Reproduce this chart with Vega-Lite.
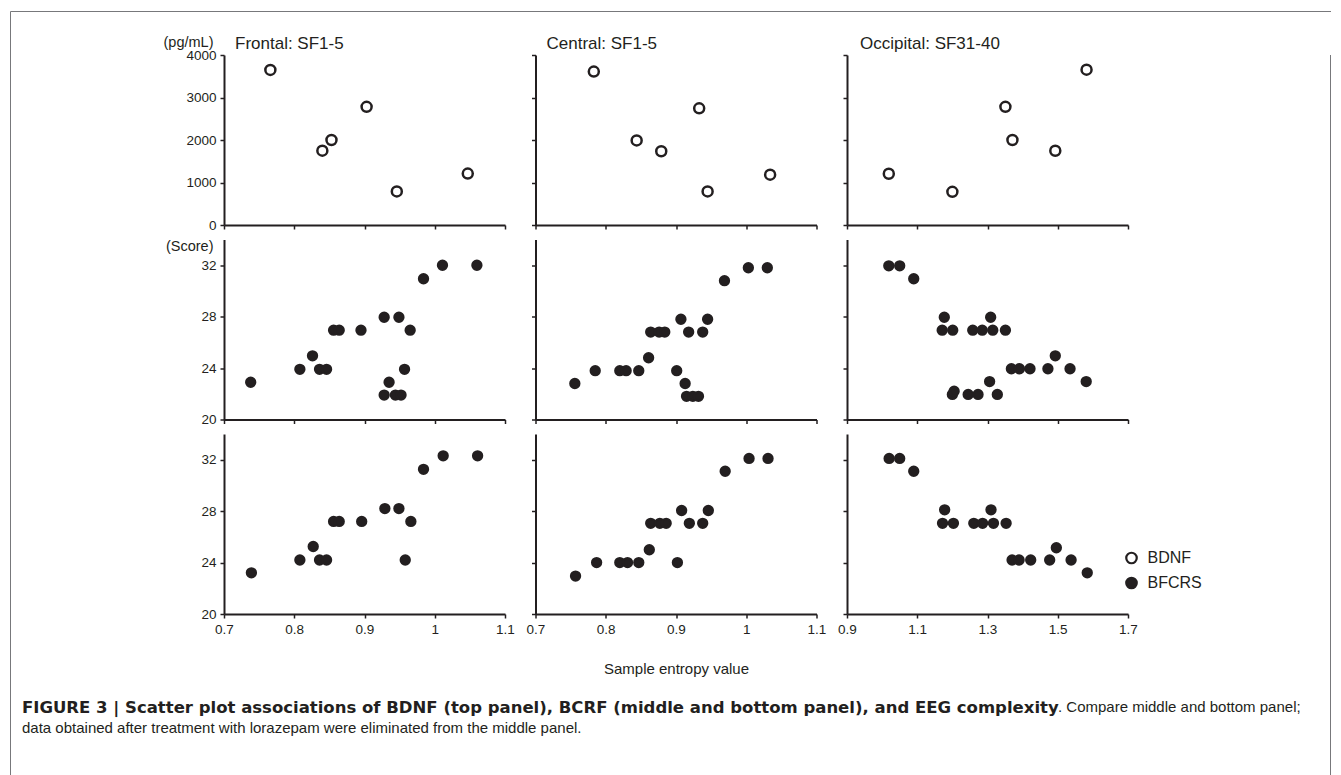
{
  "$schema": "https://vega.github.io/schema/vega-lite/v6.json",
  "background": "white",
  "padding": {"left": 10, "top": 11, "right": 0, "bottom": 0},
  "config": {
    "view": {"stroke": null},
    "font": "Liberation Sans",
    "axis": {
      "domainColor": "#231f20", "domainWidth": 2, "tickColor": "#231f20", "tickWidth": 1.5, "tickSize": 4,
      "labelColor": "#231f20", "labelFontSize": 13.5, "labelPadding": 4, "labelFlush": false, "grid": false,
      "titleColor": "#231f20", "titleFontWeight": "normal", "labelFont": "Liberation Sans", "titleFont": "Liberation Sans"
    },
    "legend": {
      "orient": "none", "legendX": 1113.5, "legendY": 539, "labelFontSize": 16, "labelColor": "#231f20",
      "labelFont": "Liberation Sans", "symbolStrokeColor": "#231f20", "symbolStrokeWidth": 2.2,
      "symbolSize": 110, "symbolType": "circle", "rowPadding": 5, "labelOffset": 8, "padding": 0
    },
    "title": {"color": "#231f20", "font": "Liberation Sans"}
  },
  "datasets": {
    "frame": [{"v": 0}],
    "frontal_bdnf": [
      {"entropy": 0.766, "value": 3650, "measure": "BDNF"}, {"entropy": 0.840, "value": 1750, "measure": "BDNF"},
      {"entropy": 0.853, "value": 2000, "measure": "BDNF"}, {"entropy": 0.903, "value": 2780, "measure": "BDNF"},
      {"entropy": 0.946, "value": 790, "measure": "BDNF"}, {"entropy": 1.047, "value": 1210, "measure": "BDNF"}
    ],
    "central_bdnf": [
      {"entropy": 0.783, "value": 3610, "measure": "BDNF"}, {"entropy": 0.844, "value": 1990, "measure": "BDNF"},
      {"entropy": 0.879, "value": 1735, "measure": "BDNF"}, {"entropy": 0.933, "value": 2745, "measure": "BDNF"},
      {"entropy": 0.945, "value": 790, "measure": "BDNF"}, {"entropy": 1.034, "value": 1185, "measure": "BDNF"}
    ],
    "occipital_bdnf": [
      {"entropy": 1.019, "value": 1205, "measure": "BDNF"}, {"entropy": 1.200, "value": 780, "measure": "BDNF"},
      {"entropy": 1.351, "value": 2780, "measure": "BDNF"}, {"entropy": 1.371, "value": 2000, "measure": "BDNF"},
      {"entropy": 1.493, "value": 1748, "measure": "BDNF"}, {"entropy": 1.582, "value": 3654, "measure": "BDNF"}
    ],
    "frontal_mid": [
      {"entropy": 0.738, "value": 22.9, "measure": "BFCRS"}, {"entropy": 0.808, "value": 23.9, "measure": "BFCRS"},
      {"entropy": 0.826, "value": 24.95, "measure": "BFCRS"}, {"entropy": 0.836, "value": 23.9, "measure": "BFCRS"},
      {"entropy": 0.846, "value": 23.9, "measure": "BFCRS"}, {"entropy": 0.856, "value": 26.95, "measure": "BFCRS"},
      {"entropy": 0.864, "value": 26.95, "measure": "BFCRS"}, {"entropy": 0.895, "value": 26.95, "measure": "BFCRS"},
      {"entropy": 0.928, "value": 27.95, "measure": "BFCRS"}, {"entropy": 0.949, "value": 27.95, "measure": "BFCRS"},
      {"entropy": 0.965, "value": 26.95, "measure": "BFCRS"}, {"entropy": 0.957, "value": 23.9, "measure": "BFCRS"},
      {"entropy": 0.935, "value": 22.9, "measure": "BFCRS"}, {"entropy": 0.928, "value": 21.9, "measure": "BFCRS"},
      {"entropy": 0.944, "value": 21.9, "measure": "BFCRS"}, {"entropy": 0.952, "value": 21.9, "measure": "BFCRS"},
      {"entropy": 0.984, "value": 30.95, "measure": "BFCRS"}, {"entropy": 1.011, "value": 32.0, "measure": "BFCRS"},
      {"entropy": 1.060, "value": 32.0, "measure": "BFCRS"}
    ],
    "central_mid": [
      {"entropy": 0.756, "value": 22.8, "measure": "BFCRS"}, {"entropy": 0.785, "value": 23.8, "measure": "BFCRS"},
      {"entropy": 0.820, "value": 23.8, "measure": "BFCRS"}, {"entropy": 0.829, "value": 23.8, "measure": "BFCRS"},
      {"entropy": 0.847, "value": 23.8, "measure": "BFCRS"}, {"entropy": 0.861, "value": 24.8, "measure": "BFCRS"},
      {"entropy": 0.864, "value": 26.8, "measure": "BFCRS"}, {"entropy": 0.876, "value": 26.8, "measure": "BFCRS"},
      {"entropy": 0.884, "value": 26.8, "measure": "BFCRS"}, {"entropy": 0.907, "value": 27.8, "measure": "BFCRS"},
      {"entropy": 0.918, "value": 26.8, "measure": "BFCRS"}, {"entropy": 0.938, "value": 26.8, "measure": "BFCRS"},
      {"entropy": 0.945, "value": 27.8, "measure": "BFCRS"}, {"entropy": 0.901, "value": 23.8, "measure": "BFCRS"},
      {"entropy": 0.913, "value": 22.8, "measure": "BFCRS"}, {"entropy": 0.915, "value": 21.8, "measure": "BFCRS"},
      {"entropy": 0.924, "value": 21.8, "measure": "BFCRS"}, {"entropy": 0.932, "value": 21.8, "measure": "BFCRS"},
      {"entropy": 0.969, "value": 30.8, "measure": "BFCRS"}, {"entropy": 1.003, "value": 31.8, "measure": "BFCRS"},
      {"entropy": 1.030, "value": 31.8, "measure": "BFCRS"}
    ],
    "occipital_mid": [
      {"entropy": 1.019, "value": 31.95, "measure": "BFCRS"}, {"entropy": 1.050, "value": 31.95, "measure": "BFCRS"},
      {"entropy": 1.090, "value": 30.95, "measure": "BFCRS"}, {"entropy": 1.177, "value": 27.95, "measure": "BFCRS"},
      {"entropy": 1.171, "value": 26.95, "measure": "BFCRS"}, {"entropy": 1.201, "value": 26.95, "measure": "BFCRS"},
      {"entropy": 1.258, "value": 26.95, "measure": "BFCRS"}, {"entropy": 1.285, "value": 26.95, "measure": "BFCRS"},
      {"entropy": 1.309, "value": 27.95, "measure": "BFCRS"}, {"entropy": 1.315, "value": 26.95, "measure": "BFCRS"},
      {"entropy": 1.351, "value": 26.95, "measure": "BFCRS"}, {"entropy": 1.368, "value": 23.95, "measure": "BFCRS"},
      {"entropy": 1.391, "value": 23.95, "measure": "BFCRS"}, {"entropy": 1.421, "value": 23.95, "measure": "BFCRS"},
      {"entropy": 1.472, "value": 23.95, "measure": "BFCRS"}, {"entropy": 1.493, "value": 24.95, "measure": "BFCRS"},
      {"entropy": 1.535, "value": 23.95, "measure": "BFCRS"}, {"entropy": 1.581, "value": 22.95, "measure": "BFCRS"},
      {"entropy": 1.200, "value": 21.95, "measure": "BFCRS"}, {"entropy": 1.205, "value": 22.2, "measure": "BFCRS"},
      {"entropy": 1.245, "value": 21.95, "measure": "BFCRS"}, {"entropy": 1.273, "value": 21.95, "measure": "BFCRS"},
      {"entropy": 1.306, "value": 22.95, "measure": "BFCRS"}, {"entropy": 1.328, "value": 21.95, "measure": "BFCRS"}
    ],
    "frontal_bot": [
      {"entropy": 0.739, "value": 23.2, "measure": "BFCRS"}, {"entropy": 0.808, "value": 24.2, "measure": "BFCRS"},
      {"entropy": 0.827, "value": 25.25, "measure": "BFCRS"}, {"entropy": 0.836, "value": 24.2, "measure": "BFCRS"},
      {"entropy": 0.846, "value": 24.2, "measure": "BFCRS"}, {"entropy": 0.856, "value": 27.2, "measure": "BFCRS"},
      {"entropy": 0.864, "value": 27.2, "measure": "BFCRS"}, {"entropy": 0.896, "value": 27.2, "measure": "BFCRS"},
      {"entropy": 0.929, "value": 28.2, "measure": "BFCRS"}, {"entropy": 0.949, "value": 28.2, "measure": "BFCRS"},
      {"entropy": 0.966, "value": 27.2, "measure": "BFCRS"}, {"entropy": 0.958, "value": 24.2, "measure": "BFCRS"},
      {"entropy": 0.984, "value": 31.25, "measure": "BFCRS"}, {"entropy": 1.012, "value": 32.3, "measure": "BFCRS"},
      {"entropy": 1.061, "value": 32.3, "measure": "BFCRS"}
    ],
    "central_bot": [
      {"entropy": 0.757, "value": 22.95, "measure": "BFCRS"}, {"entropy": 0.787, "value": 24.0, "measure": "BFCRS"},
      {"entropy": 0.820, "value": 24.0, "measure": "BFCRS"}, {"entropy": 0.831, "value": 24.0, "measure": "BFCRS"},
      {"entropy": 0.847, "value": 24.0, "measure": "BFCRS"}, {"entropy": 0.862, "value": 25.0, "measure": "BFCRS"},
      {"entropy": 0.864, "value": 27.05, "measure": "BFCRS"}, {"entropy": 0.877, "value": 27.05, "measure": "BFCRS"},
      {"entropy": 0.886, "value": 27.05, "measure": "BFCRS"}, {"entropy": 0.908, "value": 28.05, "measure": "BFCRS"},
      {"entropy": 0.919, "value": 27.05, "measure": "BFCRS"}, {"entropy": 0.938, "value": 27.05, "measure": "BFCRS"},
      {"entropy": 0.946, "value": 28.05, "measure": "BFCRS"}, {"entropy": 0.902, "value": 24.0, "measure": "BFCRS"},
      {"entropy": 0.970, "value": 31.1, "measure": "BFCRS"}, {"entropy": 1.004, "value": 32.1, "measure": "BFCRS"},
      {"entropy": 1.031, "value": 32.1, "measure": "BFCRS"}
    ],
    "occipital_bot": [
      {"entropy": 1.020, "value": 32.1, "measure": "BFCRS"}, {"entropy": 1.050, "value": 32.1, "measure": "BFCRS"},
      {"entropy": 1.090, "value": 31.1, "measure": "BFCRS"}, {"entropy": 1.178, "value": 28.1, "measure": "BFCRS"},
      {"entropy": 1.172, "value": 27.05, "measure": "BFCRS"}, {"entropy": 1.203, "value": 27.05, "measure": "BFCRS"},
      {"entropy": 1.261, "value": 27.05, "measure": "BFCRS"}, {"entropy": 1.286, "value": 27.05, "measure": "BFCRS"},
      {"entropy": 1.310, "value": 28.1, "measure": "BFCRS"}, {"entropy": 1.317, "value": 27.05, "measure": "BFCRS"},
      {"entropy": 1.353, "value": 27.05, "measure": "BFCRS"}, {"entropy": 1.370, "value": 24.2, "measure": "BFCRS"},
      {"entropy": 1.390, "value": 24.2, "measure": "BFCRS"}, {"entropy": 1.423, "value": 24.2, "measure": "BFCRS"},
      {"entropy": 1.477, "value": 24.2, "measure": "BFCRS"}, {"entropy": 1.496, "value": 25.15, "measure": "BFCRS"},
      {"entropy": 1.538, "value": 24.2, "measure": "BFCRS"}, {"entropy": 1.584, "value": 23.2, "measure": "BFCRS"}
    ]
  },
  "bounds": "flush",
  "spacing": 0,
  "vconcat": [
    {
      "width": 1321, "height": 44,
      "data": {"name": "frame"},
      "layer": [
        {
          "mark": {"type": "point", "opacity": 0},
          "encoding": {
            "x": {"field": "v", "type": "quantitative", "axis": {"orient": "top", "domainColor": "#77787b", "domainWidth": 1, "ticks": false, "labels": false, "title": null}},
            "y": {"field": "v", "type": "quantitative", "axis": {"orient": "left", "domainColor": "#77787b", "domainWidth": 1, "ticks": false, "labels": false, "title": null}}
          }
        },
        {
          "mark": {"type": "point", "opacity": 0},
          "encoding": {
            "y": {"field": "v", "type": "quantitative", "axis": {"orient": "right", "domainColor": "#77787b", "domainWidth": 1, "ticks": false, "labels": false, "title": null}}
          }
        }
      ],
      "resolve": {"scale": {"y": "independent"}, "axis": {"y": "independent"}}
    },
    {
      "spacing": 29,
      "hconcat": [
        {
          "spacing": 11,
          "hconcat": [
            {
              "width": 1, "height": 780,
              "view": {"fill": "#77787b", "stroke": null},
              "data": {"values": []},
              "mark": "point",
              "encoding": {}
            },
            {
              "title": {
                "text": "FIGURE 3 | Scatter plot associations of BDNF (top panel), BCRF (middle and bottom panel), and EEG complexity",
                "subtitle": "data obtained after treatment with lorazepam were eliminated from the middle panel.",
                "orient": "bottom", "anchor": "start", "frame": "group", "dx": -202, "offset": -15,
                "font": "DejaVu Sans", "fontSize": 16.5, "fontWeight": "bold", "subtitleFontSize": 15, "subtitleFontWeight": "normal",
                "subtitleColor": "#231f20", "subtitlePadding": 4, "subtitleFont": "Liberation Sans"
              },
              "vconcat": [
                {
                  "title": {
                    "text": ". Compare middle and bottom panel;", "orient": "bottom", "anchor": "start", "frame": "group",
                    "dx": 834, "offset": 24, "fontSize": 15, "fontWeight": "normal"
                  },
                  "bounds": "flush",
                  "columns": 3,
                  "spacing": {"row": 14.5, "column": 30.5},
                  "concat": [
                    {
                      "width": 281, "height": 170,
                      "title": {"text": "Frontal: SF1-5", "anchor": "start", "frame": "group", "dx": 11, "dy": 39, "fontSize": 17, "fontWeight": "normal", "baseline": "alphabetic", "offset": 7},
                      "data": {"name": "frontal_bdnf"},
                      "mark": {"type": "point", "shape": "circle", "filled": true, "stroke": "#231f20", "strokeWidth": 2.5, "size": 100, "opacity": 1},
                      "encoding": {
                        "x": {"field": "entropy", "type": "quantitative", "scale": {"domain": [0.7, 1.1], "nice": false, "zero": false}, "axis": {"values": [0.7, 0.8, 0.9, 1, 1.1], "labels": false, "title": null}},
                        "y": {"field": "value", "type": "quantitative", "scale": {"domain": [0, 4000], "nice": false}, "axis": {"values": [0, 1000, 2000, 3000, 4000], "format": "d", "title": "(pg/mL)", "titleAngle": 0, "titleAlign": "right", "titleBaseline": "alphabetic", "titleX": -11, "titleY": -9, "titleFontSize": 14.5}},
                        "fill": {"field": "measure", "type": "nominal", "scale": {"domain": ["BDNF", "BFCRS"], "range": ["#ffffff", "#231f20"]}, "title": null}
                      }
                    },
                    {
                      "width": 281, "height": 170,
                      "title": {"text": "Central: SF1-5", "anchor": "start", "frame": "group", "dx": 11, "dy": 19, "fontSize": 17, "fontWeight": "normal", "baseline": "alphabetic", "offset": 7},
                      "data": {"name": "central_bdnf"},
                      "mark": {"type": "point", "shape": "circle", "filled": true, "stroke": "#231f20", "strokeWidth": 2.5, "size": 100, "opacity": 1},
                      "encoding": {
                        "x": {"field": "entropy", "type": "quantitative", "scale": {"domain": [0.7, 1.1], "nice": false, "zero": false}, "axis": {"values": [0.7, 0.8, 0.9, 1, 1.1], "labels": false, "title": null}},
                        "y": {"field": "value", "type": "quantitative", "scale": {"domain": [0, 4000], "nice": false}, "axis": {"values": [0, 1000, 2000, 3000, 4000], "labels": false, "title": null}},
                        "fill": {"field": "measure", "type": "nominal", "scale": {"domain": ["BDNF", "BFCRS"], "range": ["#ffffff", "#231f20"]}, "title": null}
                      }
                    },
                    {
                      "width": 281, "height": 170,
                      "title": {"text": "Occipital: SF31-40", "anchor": "start", "frame": "group", "dx": 13, "dy": 19, "fontSize": 17, "fontWeight": "normal", "baseline": "alphabetic", "offset": 7},
                      "data": {"name": "occipital_bdnf"},
                      "mark": {"type": "point", "shape": "circle", "filled": true, "stroke": "#231f20", "strokeWidth": 2.5, "size": 100, "opacity": 1},
                      "encoding": {
                        "x": {"field": "entropy", "type": "quantitative", "scale": {"domain": [0.9, 1.7], "nice": false, "zero": false}, "axis": {"values": [0.9, 1.1, 1.3, 1.5, 1.7], "labels": false, "title": null}},
                        "y": {"field": "value", "type": "quantitative", "scale": {"domain": [0, 4000], "nice": false}, "axis": {"values": [0, 1000, 2000, 3000, 4000], "labels": false, "title": null}},
                        "fill": {"field": "measure", "type": "nominal", "scale": {"domain": ["BDNF", "BFCRS"], "range": ["#ffffff", "#231f20"]}, "title": null}
                      }
                    },
                    {
                      "width": 281, "height": 180,
                      "data": {"name": "frontal_mid"},
                      "mark": {"type": "point", "shape": "circle", "filled": true, "stroke": "#231f20", "strokeWidth": 2.5, "size": 78, "opacity": 1},
                      "encoding": {
                        "x": {"field": "entropy", "type": "quantitative", "scale": {"domain": [0.7, 1.1], "nice": false, "zero": false}, "axis": {"values": [0.7, 0.8, 0.9, 1, 1.1], "labels": false, "title": null}},
                        "y": {"field": "value", "type": "quantitative", "scale": {"domain": [20, 34], "nice": false, "zero": false}, "axis": {"values": [20, 24, 28, 32], "format": "d", "title": "(Score)", "titleAngle": 0, "titleAlign": "right", "titleBaseline": "alphabetic", "titleX": -11, "titleY": 11, "titleFontSize": 14.5}},
                        "fill": {"field": "measure", "type": "nominal", "scale": {"domain": ["BDNF", "BFCRS"], "range": ["#ffffff", "#231f20"]}, "title": null}
                      }
                    },
                    {
                      "width": 281, "height": 180,
                      "data": {"name": "central_mid"},
                      "mark": {"type": "point", "shape": "circle", "filled": true, "stroke": "#231f20", "strokeWidth": 2.5, "size": 78, "opacity": 1},
                      "encoding": {
                        "x": {"field": "entropy", "type": "quantitative", "scale": {"domain": [0.7, 1.1], "nice": false, "zero": false}, "axis": {"values": [0.7, 0.8, 0.9, 1, 1.1], "labels": false, "title": null}},
                        "y": {"field": "value", "type": "quantitative", "scale": {"domain": [20, 34], "nice": false, "zero": false}, "axis": {"values": [20, 24, 28, 32], "labels": false, "title": null}},
                        "fill": {"field": "measure", "type": "nominal", "scale": {"domain": ["BDNF", "BFCRS"], "range": ["#ffffff", "#231f20"]}, "title": null}
                      }
                    },
                    {
                      "width": 281, "height": 180,
                      "data": {"name": "occipital_mid"},
                      "mark": {"type": "point", "shape": "circle", "filled": true, "stroke": "#231f20", "strokeWidth": 2.5, "size": 78, "opacity": 1},
                      "encoding": {
                        "x": {"field": "entropy", "type": "quantitative", "scale": {"domain": [0.9, 1.7], "nice": false, "zero": false}, "axis": {"values": [0.9, 1.1, 1.3, 1.5, 1.7], "labels": false, "title": null}},
                        "y": {"field": "value", "type": "quantitative", "scale": {"domain": [20, 34], "nice": false, "zero": false}, "axis": {"values": [20, 24, 28, 32], "labels": false, "title": null}},
                        "fill": {"field": "measure", "type": "nominal", "scale": {"domain": ["BDNF", "BFCRS"], "range": ["#ffffff", "#231f20"]}, "title": null}
                      }
                    },
                    {
                      "width": 281, "height": 180,
                      "data": {"name": "frontal_bot"},
                      "mark": {"type": "point", "shape": "circle", "filled": true, "stroke": "#231f20", "strokeWidth": 2.5, "size": 78, "opacity": 1},
                      "encoding": {
                        "x": {"field": "entropy", "type": "quantitative", "scale": {"domain": [0.7, 1.1], "nice": false, "zero": false}, "axis": {"values": [0.7, 0.8, 0.9, 1, 1.1], "format": "~g", "title": null}},
                        "y": {"field": "value", "type": "quantitative", "scale": {"domain": [20, 34], "nice": false, "zero": false}, "axis": {"values": [20, 24, 28, 32], "format": "d", "title": null}},
                        "fill": {"field": "measure", "type": "nominal", "scale": {"domain": ["BDNF", "BFCRS"], "range": ["#ffffff", "#231f20"]}, "title": null}
                      }
                    },
                    {
                      "width": 281, "height": 180,
                      "data": {"name": "central_bot"},
                      "mark": {"type": "point", "shape": "circle", "filled": true, "stroke": "#231f20", "strokeWidth": 2.5, "size": 78, "opacity": 1},
                      "encoding": {
                        "x": {"field": "entropy", "type": "quantitative", "scale": {"domain": [0.7, 1.1], "nice": false, "zero": false}, "axis": {"values": [0.7, 0.8, 0.9, 1, 1.1], "format": "~g", "title": "Sample entropy value", "titleFontSize": 15, "titleBaseline": "alphabetic", "titleY": 59}},
                        "y": {"field": "value", "type": "quantitative", "scale": {"domain": [20, 34], "nice": false, "zero": false}, "axis": {"values": [20, 24, 28, 32], "labels": false, "title": null}},
                        "fill": {"field": "measure", "type": "nominal", "scale": {"domain": ["BDNF", "BFCRS"], "range": ["#ffffff", "#231f20"]}, "title": null}
                      }
                    },
                    {
                      "width": 281, "height": 180,
                      "data": {"name": "occipital_bot"},
                      "mark": {"type": "point", "shape": "circle", "filled": true, "stroke": "#231f20", "strokeWidth": 2.5, "size": 78, "opacity": 1},
                      "encoding": {
                        "x": {"field": "entropy", "type": "quantitative", "scale": {"domain": [0.9, 1.7], "nice": false, "zero": false}, "axis": {"values": [0.9, 1.1, 1.3, 1.5, 1.7], "format": "~g", "title": null}},
                        "y": {"field": "value", "type": "quantitative", "scale": {"domain": [20, 34], "nice": false, "zero": false}, "axis": {"values": [20, 24, 28, 32], "labels": false, "title": null}},
                        "fill": {"field": "measure", "type": "nominal", "scale": {"domain": ["BDNF", "BFCRS"], "range": ["#ffffff", "#231f20"]}, "title": null}
                      }
                    }
                  ]
                }
              ]
            }
          ]
        },
        {
          "width": 1, "height": 780,
          "view": {"fill": "#77787b", "stroke": null},
          "data": {"values": []},
          "mark": "point",
          "encoding": {}
        }
      ]
    }
  ]
}
